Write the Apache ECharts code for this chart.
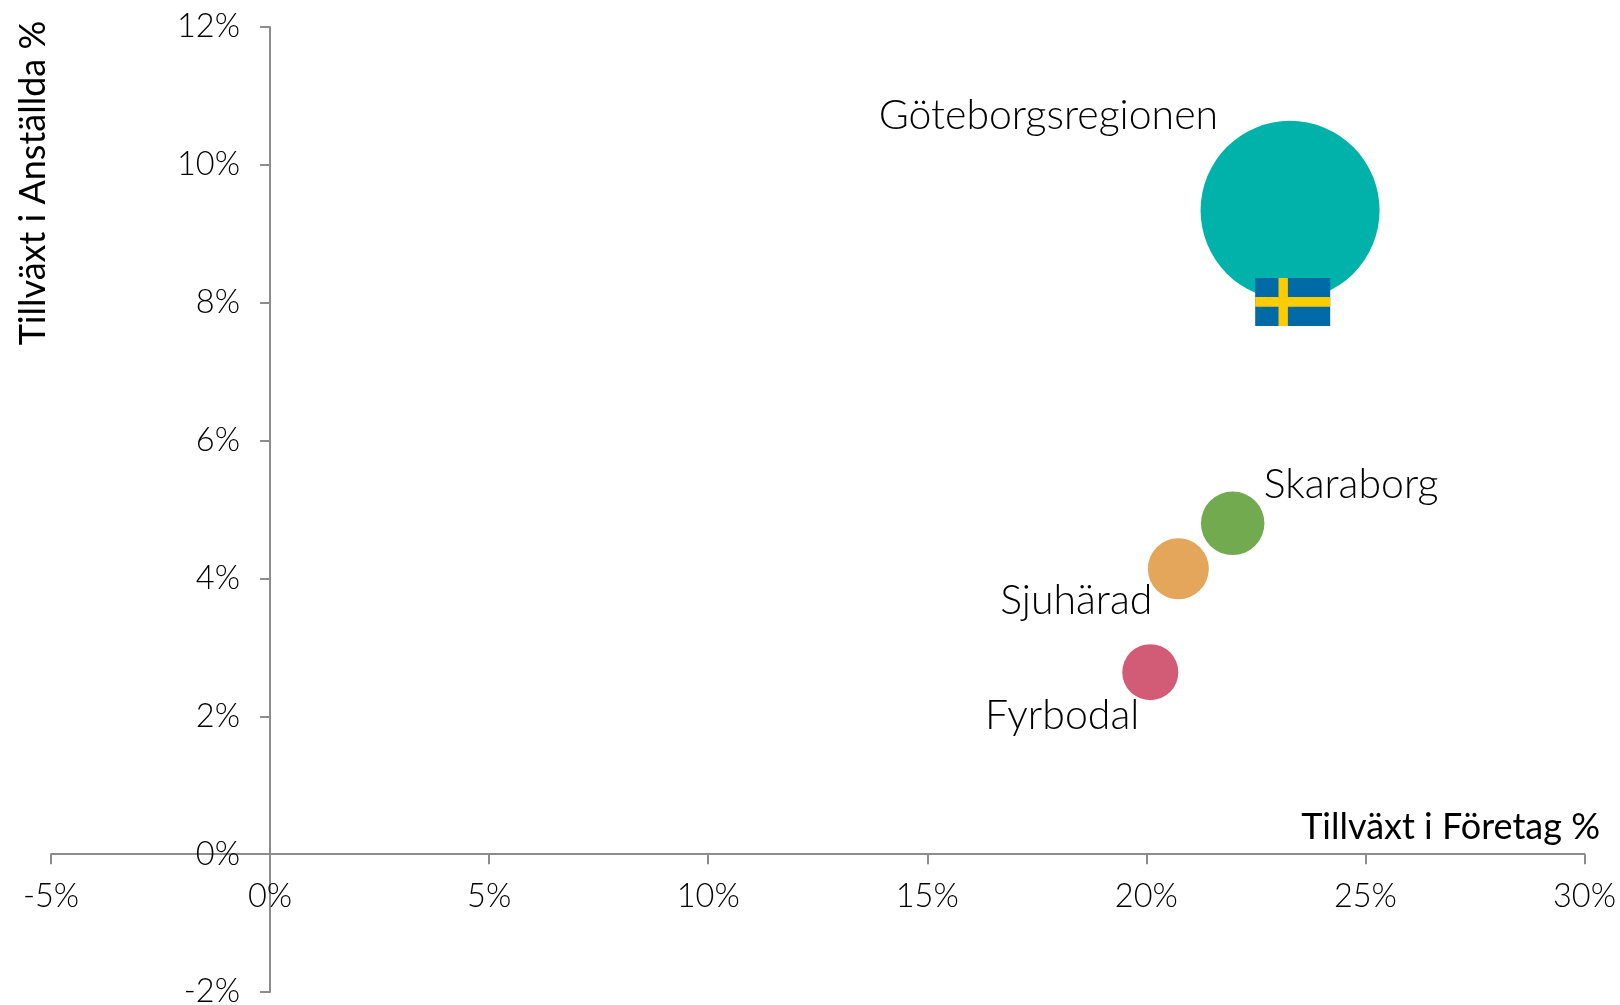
<!DOCTYPE html>
<html><head><meta charset="utf-8">
<style>html,body{margin:0;padding:0;background:#fff}#c{width:1620px;height:1005px}</style>
<script src="https://cdn.jsdelivr.net/npm/echarts@6/dist/echarts.min.js"></script>
</head><body><div id="c"></div>
<script>
const regions = ['Göteborgsregionen', 'Skaraborg', 'Sjuhärad', 'Fyrbodal'];
const growthCompanies = [23.28, 21.97, 20.73, 20.09];
const growthEmployees = [9.34, 4.80, 4.14, 2.64];
const bubbleValues = [100, 12.6, 11.6, 9.8];
const flagPoint = [23.34, 8.01];
const xTitle = 'Tillväxt i Företag %';
const yTitle = 'Tillväxt i Anställda %';

const colors = ['#00B2A9', '#72AB4F', '#E3A65B', '#D25B75'];
const labelPlacement = [
  {offset: [-72, -95], align: 'right'},
  {offset: [31, -39], align: 'left'},
  {offset: [-26, 32], align: 'right'},
  {offset: [-11, 44], align: 'right'}
];
const font = 'Lato';
const axisColor = '#8C8C8C';
const tickText = {color: '#000', fontFamily: font, fontWeight: 300, fontSize: 32.5};

const chart = echarts.init(document.getElementById('c'), null, {renderer: 'canvas'});
chart.setOption({
  animation: false,
  backgroundColor: '#fff',
  grid: {left: 51, top: 27, width: 1533.5, height: 965, containLabel: false, outerBoundsMode: 'none'},
  xAxis: {
    type: 'value', min: -5, max: 30, interval: 5,
    axisLine: {onZero: true, lineStyle: {color: axisColor, width: 2}},
    axisTick: {show: true, length: 10, lineStyle: {color: axisColor, width: 2}},
    axisLabel: Object.assign({margin: -112, formatter: '{value}%', showMinLabel: true, showMaxLabel: true, hideOverlap: false}, tickText),
    splitLine: {show: false}
  },
  yAxis: {
    type: 'value', min: -2, max: 12, interval: 2,
    axisLine: {onZero: true, lineStyle: {color: axisColor, width: 2}},
    axisTick: {show: true, length: 10, lineStyle: {color: axisColor, width: 2}},
    axisLabel: Object.assign({margin: -189, formatter: '{value}%', showMinLabel: true, showMaxLabel: true, hideOverlap: false}, tickText),
    splitLine: {show: false}
  },
  graphic: [
    {type: 'text', x: 1600, y: 827, z: 10, style: {text: xTitle, fill: '#000', font: '400 36px ' + font, align: 'right', verticalAlign: 'middle'}},
    {type: 'text', x: 33, y: 183, rotation: Math.PI / 2, z: 10, style: {text: yTitle, fill: '#000', font: '400 36px ' + font, align: 'center', verticalAlign: 'middle'}}
  ],
  series: [
    {
      type: 'scatter',
      z: 2,
      data: regions.map((name, i) => ({
        name,
        value: [growthCompanies[i], growthEmployees[i], bubbleValues[i]],
        itemStyle: {color: colors[i], opacity: 1},
        label: {
          show: true, formatter: name, position: ['50%', '50%'],
          offset: labelPlacement[i].offset, align: labelPlacement[i].align, verticalAlign: 'middle',
          color: '#000', fontFamily: font, fontSize: 41, fontWeight: 300
        }
      })),
      symbol: 'circle',
      symbolSize: v => 179 * Math.sqrt(v[2] / 100),
      emphasis: {disabled: true}
    },
    {
      type: 'custom',
      z: 5,
      coordinateSystem: 'cartesian2d',
      data: [flagPoint],
      renderItem(params, api) {
        const p = api.coord([api.value(0), api.value(1)]);
        const w = 75, h = 48;
        const l = p[0] - w / 2, t = p[1] - h / 2;
        return {type: 'group', children: [
          {type: 'rect', shape: {x: l, y: t, width: w, height: h}, style: {fill: '#006AA7'}},
          {type: 'rect', shape: {x: l + 23.3, y: t, width: 9.4, height: h}, style: {fill: '#FECC00'}},
          {type: 'rect', shape: {x: l, y: t + 19, width: w, height: 9.6}, style: {fill: '#FECC00'}}
        ]};
      }
    }
  ]
});
</script></body></html>
